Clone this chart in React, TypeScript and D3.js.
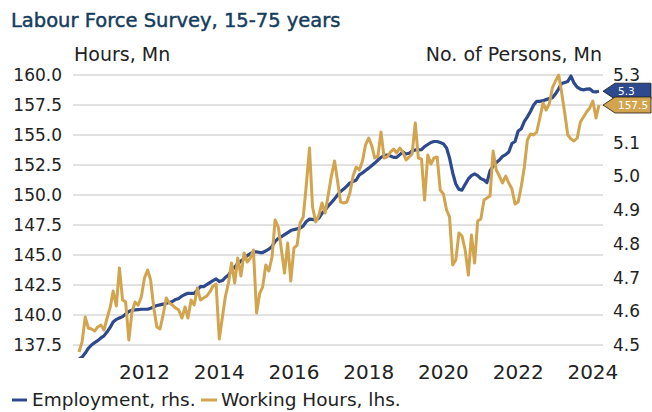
import React from "react";
import * as d3 from "d3";

const TITLE = "Labour Force Survey, 15-75 years";
const LEFT_TITLE = "Hours, Mn";
const RIGHT_TITLE = "No. of Persons, Mn";
const SERIES_NAMES = ["Employment, rhs.", "Working Hours, lhs."];

// monthly observations, first month = April 2010
const START_YEAR = 2010;
const START_MONTH = 3;

// Employment (rhs, million persons)
const employment = [
  4.459, 4.464, 4.476, 4.49, 4.5, 4.507, 4.513, 4.521, 4.527, 4.539,
  4.553, 4.568, 4.576, 4.58, 4.584, 4.592, 4.599, 4.603, 4.604, 4.605,
  4.606, 4.606, 4.606, 4.609, 4.613, 4.617, 4.619, 4.621, 4.624, 4.626,
  4.629, 4.635, 4.638, 4.645, 4.65, 4.653, 4.653, 4.653, 4.663, 4.673,
  4.673, 4.679, 4.685, 4.691, 4.696, 4.688, 4.691, 4.7, 4.707, 4.721,
  4.731, 4.741, 4.749, 4.756, 4.765, 4.771, 4.776, 4.776, 4.774, 4.774,
  4.779, 4.784, 4.792, 4.807, 4.816, 4.821, 4.827, 4.833, 4.839, 4.842,
  4.844, 4.846, 4.853, 4.866, 4.873, 4.872, 4.87, 4.876, 4.89, 4.9,
  4.912, 4.922, 4.933, 4.944, 4.955, 4.962, 4.971, 4.98, 4.984, 4.989,
  5.004, 5.01, 5.017, 5.024, 5.032, 5.039, 5.048, 5.056, 5.061, 5.063,
  5.06, 5.056, 5.056, 5.064, 5.072, 5.066, 5.068, 5.075, 5.078, 5.078,
  5.079, 5.088, 5.094, 5.1, 5.103, 5.103, 5.1, 5.096, 5.084, 5.054,
  5.01, 4.977, 4.961, 4.959, 4.976, 4.992, 5.002, 5.007, 5.002, 4.993,
  4.989, 4.981, 5.016, 5.03, 5.041, 5.048, 5.059, 5.064, 5.072, 5.097,
  5.103, 5.134, 5.141, 5.162, 5.176, 5.192, 5.211, 5.222, 5.222, 5.224,
  5.227, 5.23, 5.233, 5.244, 5.259, 5.275, 5.278, 5.281, 5.297, 5.276,
  5.264, 5.258, 5.256, 5.258, 5.259, 5.251, 5.25, 5.252,
];

// Working hours (lhs, million hours)
const workingHours = [
  136.92, 137.75, 139.83, 138.92, 138.83, 138.67, 139.0, 139.17, 138.75, 139.75,
  140.67, 142.0, 140.75, 143.92, 141.25, 141.08, 137.92, 140.25, 141.08, 140.83,
  141.5, 143.08, 143.75, 142.92, 140.58, 139.0, 138.83, 140.0, 141.42, 141.0,
  140.83, 140.58, 140.42, 139.75, 140.67, 139.75, 141.25, 140.83, 142.25, 141.25,
  141.42, 141.58, 141.92, 142.42, 142.58, 138.0, 139.83, 141.5, 142.67, 144.33,
  142.67, 144.75, 143.25, 145.17, 144.42, 144.75, 145.42, 140.17, 141.83, 142.33,
  144.17, 143.67, 144.83, 147.92, 147.33, 145.42, 143.5, 146.0, 142.83, 145.58,
  145.83, 147.67, 148.17, 150.83, 153.92, 149.0, 147.75, 148.33, 149.33, 148.5,
  150.0, 151.58, 152.83, 151.25, 149.42, 149.33, 149.42, 150.17, 151.58, 152.33,
  152.08, 152.83, 154.17, 154.75, 154.08, 153.08, 153.25, 155.25, 153.08, 153.17,
  153.58, 153.83, 153.5, 153.92, 153.58, 152.92, 153.17, 153.42, 156.0, 153.08,
  153.0, 149.58, 153.33, 152.58, 153.08, 153.17, 150.42, 150.08, 148.75, 148.17,
  144.17, 144.58, 146.83, 146.58, 145.42, 143.33, 146.67, 144.33, 147.83, 148.0,
  149.58, 149.75, 149.92, 153.67, 152.08, 151.58, 151.0, 151.58, 151.0, 150.5,
  149.25, 149.42, 150.75, 152.25, 154.58, 155.08, 155.0, 155.25, 156.42, 157.67,
  157.08, 157.58, 158.92, 159.5, 160.0, 158.58, 156.83, 155.0, 154.67, 154.5,
  154.75, 156.08, 156.5, 156.92, 157.25, 157.83, 156.42, 157.5,
];

const X_TICK_YEARS = [2012, 2014, 2016, 2018, 2020, 2022, 2024];
const LEFT_TICKS = [137.5, 140, 142.5, 145, 147.5, 150, 152.5, 155, 157.5, 160];
const RIGHT_TICKS = [4.5, 4.6, 4.7, 4.8, 4.9, 5.0, 5.1, 5.2, 5.3];

const W = 652;
const H = 412;
const BLUE = "#2e4a8e";
const GOLD = "#d3a44e";
const TITLE_COLOR = "#143c5c";
const TEXT = "#222222";
const GRID = "#c4c4c4";
const FONT = "'DejaVu Sans', sans-serif";

const PLOT = { left: 73, right: 603, top: 75, bottom: 345, lineStart: 79, lineEnd: 599 };
const FLAG_HALF = 8;

export default function App() {
  const start = new Date(START_YEAR, START_MONTH, 1);
  const dates = workingHours.map((_, i) => d3.timeMonth.offset(start, i));
  const x = d3
    .scaleTime()
    .domain([dates[0], dates[dates.length - 1]])
    .range([PLOT.lineStart, PLOT.lineEnd]);
  const yL = d3.scaleLinear().domain([137.5, 160]).range([PLOT.bottom, PLOT.top]);
  const yR = d3.scaleLinear().domain([4.5, 5.3]).range([PLOT.bottom, PLOT.top]);

  const lineL = d3
    .line<number>()
    .x((_, i) => x(dates[i]))
    .y((d) => yL(d));
  const lineR = d3
    .line<number>()
    .x((_, i) => x(dates[i]))
    .y((d) => yR(d));

  const f1 = d3.format(".1f");
  const lastE = employment[employment.length - 1];
  const lastH = workingHours[workingHours.length - 1];
  const flagYs = [yR(lastE), yL(lastH)];

  const flag = (yv: number) => {
    const h = FLAG_HALF;
    const tip = PLOT.right;
    const body = tip + 12;
    const end = 651;
    return `M${tip},${yv} L${body},${yv - h} L${end},${yv - h} L${end},${yv + h} L${body},${yv + h} Z`;
  };

  // right-axis labels that sit behind the value flags are covered in the original
  const visibleRight = RIGHT_TICKS.filter(
    (t) => !flagYs.some((fy) => Math.abs(yR(t) - fy) < FLAG_HALF + 4)
  );

  return (
    <svg
      width={W}
      height={H}
      viewBox={`0 0 ${W} ${H}`}
      style={{ position: "absolute", left: 0, top: 0, background: "#fff" }}
      fontFamily={FONT}
    >
      <defs>
        <clipPath id="plotClip">
          <rect x={PLOT.left} y={68} width={PLOT.right - PLOT.left} height={358 - 68} />
        </clipPath>
      </defs>

      <text x={11} y={27} fontSize={19.5} fill={TITLE_COLOR} stroke={TITLE_COLOR} strokeWidth={0.45}>
        {TITLE}
      </text>
      <text x={74} y={61} fontSize={19} fill={TEXT}>
        {LEFT_TITLE}
      </text>
      <text x={602} y={61} fontSize={19} fill={TEXT} textAnchor="end">
        {RIGHT_TITLE}
      </text>

      {LEFT_TICKS.map((t) => (
        <g key={`gl${t}`}>
          <line x1={PLOT.left} x2={PLOT.right} y1={yL(t)} y2={yL(t)} stroke={GRID} strokeWidth={1} />
          <text x={62} y={yL(t)} dy="0.36em" fontSize={17} fill={TEXT} textAnchor="end">
            {f1(t)}
          </text>
        </g>
      ))}

      {visibleRight.map((t) => (
        <text key={`r${t}`} x={613} y={yR(t)} dy="0.36em" fontSize={17} fill={TEXT}>
          {f1(t)}
        </text>
      ))}

      {X_TICK_YEARS.map((yr) => (
        <text key={`x${yr}`} x={x(new Date(yr, 0, 1))} y={379} fontSize={20} fill={TEXT} textAnchor="middle">
          {yr}
        </text>
      ))}

      <g clipPath="url(#plotClip)">
        <path d={lineR(employment) || ""} fill="none" stroke={BLUE} strokeWidth={3.2} strokeLinejoin="round" />
        <path d={lineL(workingHours) || ""} fill="none" stroke={GOLD} strokeWidth={3} strokeLinejoin="round" />
      </g>

      <path d={flag(yR(lastE))} fill={BLUE} stroke="#1a1a1a" strokeWidth={0.8} />
      <text x={618} y={yR(lastE)} dy="0.36em" fontSize={10.5} fill="#fff">
        {f1(lastE)}
      </text>
      <path d={flag(yL(lastH))} fill={GOLD} stroke="#1a1a1a" strokeWidth={0.8} />
      <text x={618} y={yL(lastH)} dy="0.36em" fontSize={10.5} fill="#fff">
        {f1(lastH)}
      </text>

      <line x1={12} x2={27} y1={400} y2={400} stroke={BLUE} strokeWidth={3} />
      <text x={32} y={406} fontSize={18.5} fill={TEXT}>
        {SERIES_NAMES[0]}
      </text>
      <line x1={201} x2={217} y1={400} y2={400} stroke={GOLD} strokeWidth={3} />
      <text x={221} y={406} fontSize={18.5} fill={TEXT}>
        {SERIES_NAMES[1]}
      </text>
    </svg>
  );
}
